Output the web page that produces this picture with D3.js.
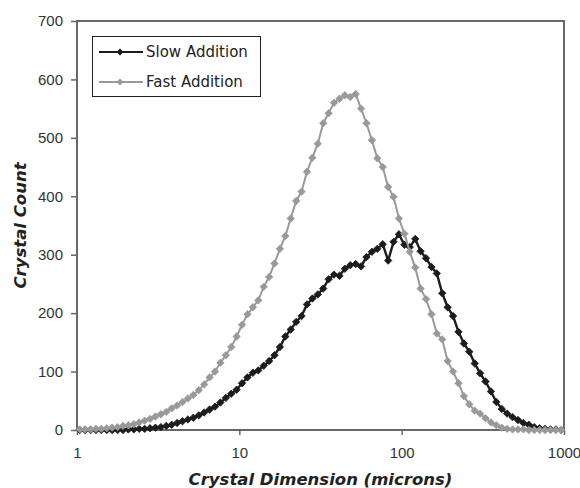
<!DOCTYPE html>
<html>
<head>
<meta charset="utf-8">
<script src="https://cdn.jsdelivr.net/npm/d3@7"></script>
<style>
    body { margin: 0; background: #fff; }
    .axis text { font-family: "Liberation Sans", Arial, sans-serif; font-size: 15px; fill: #333; }
    .axis line { stroke: #666; stroke-width: 1.5; }
    .title { font-family: "Comic Sans MS", "DejaVu Sans", sans-serif; font-weight: bold; font-style: italic; font-size: 16.5px; fill: #222; }
    .legend text { font-family: "Comic Sans MS", "DejaVu Sans", sans-serif; font-size: 15px; fill: #222; }
</style>
</head>
<body>
<div class="chart-container"></div>
<script>
// channel midpoints (microns), 90 log channels 1-1000
const binSizes = [
    1.039, 1.122, 1.212, 1.308, 1.413, 1.526, 1.647, 1.778, 1.920, 2.073,
    2.239, 2.417, 2.610, 2.818, 3.043, 3.286, 3.548, 3.831, 4.137, 4.467,
    4.823, 5.208, 5.623, 6.072, 6.556, 7.079, 7.644, 8.254, 8.913, 9.624,
    10.39, 11.22, 12.12, 13.08, 14.13, 15.26, 16.47, 17.78, 19.20, 20.73,
    22.39, 24.17, 26.10, 28.18, 30.43, 32.86, 35.48, 38.31, 41.37, 44.67,
    48.23, 52.08, 56.23, 60.72, 65.56, 70.79, 76.44, 82.54, 89.13, 96.24,
    103.9, 112.2, 121.2, 130.8, 141.3, 152.6, 164.7, 177.8, 192.0, 207.3,
    223.9, 241.7, 261.0, 281.8, 304.3, 328.6, 354.8, 383.1, 413.7, 446.7,
    482.3, 520.8, 562.3, 607.2, 655.6, 707.9, 764.4, 825.4, 891.3, 962.4
];
const slowCounts = [
    0, 0, 0, 0, 0, 0, 0, 0, 0, 1,
    1, 2, 2, 3, 4, 5, 7, 9, 12, 15,
    18, 21, 25, 30, 35, 40, 47, 55, 62, 69,
    80, 90, 98, 102, 110, 118, 128, 142, 160, 172,
    185, 195, 215, 225, 232, 242, 258, 266, 264, 276,
    282, 284, 280, 296, 305, 310, 318, 290, 322, 335,
    317, 313, 327, 306, 294, 279, 268, 234, 210, 195,
    168, 148, 134, 114, 97, 83, 66, 48, 36, 28,
    22, 17, 12, 9, 5, 3, 2, 1, 1, 0
];
const fastCounts = [
    1, 1, 1, 2, 2, 3, 4, 5, 7, 8,
    10, 13, 16, 19, 23, 27, 31, 37, 42, 48,
    54, 60, 68, 78, 90, 100, 115, 128, 142, 160,
    180, 198, 210, 222, 245, 262, 285, 310, 332, 362,
    392, 408, 442, 466, 490, 525, 542, 560, 567, 573,
    570, 575, 550, 525, 496, 465, 450, 416, 399, 362,
    336, 305, 278, 242, 224, 198, 165, 155, 118, 100,
    80, 58, 44, 33, 28, 20, 13, 8, 4, 2,
    1, 1, 1, 0, 0, 0, 0, 0, 0, 0
];
const seriesNames = ['Slow Addition', 'Fast Addition'];
const seriesColors = ['#1c1c1c', '#999999'];
const xTicks = [1, 10, 100, 1000];
const yTicks = [0, 100, 200, 300, 400, 500, 600, 700];

const svg_width = 580;
const svg_height = 488;
const chart_margin = {
    top: 21,
    right: 16,
    bottom: 58,
    left: 77
};
const chart_width = svg_width - (chart_margin.left + chart_margin.right);
const chart_height = svg_height - (chart_margin.top + chart_margin.bottom);

const svg = d3.select('.chart-container')
    .append('svg')
    .attr('width', svg_width)
    .attr('height', svg_height);
const this_svg = svg.append('g')
    .attr('transform', `translate(${chart_margin.left},${chart_margin.top})`);

//scale
const xScale = d3.scaleLog([1, 1000], [0, chart_width]);
const yScale = d3.scaleLinear([0, 700], [chart_height, 0]);

const diamond = r => `M0,${-r}L${r},0L0,${r}L${-r},0Z`;

const series = [slowCounts, fastCounts].map((counts, k) => ({
    name: seriesNames[k],
    color: seriesColors[k],
    width: k === 0 ? 2.4 : 2,
    values: binSizes.map((b, i) => ({ size: b, count: counts[i] }))
}));

//axes
const xAxis = d3.axisBottom(xScale)
    .tickValues(xTicks)
    .tickFormat(d3.format('d'))
    .tickSizeInner(5)
    .tickSizeOuter(0)
    .tickPadding(12);
this_svg.append('g')
    .attr('class', 'x axis')
    .attr('transform', `translate(0,${chart_height})`)
    .call(xAxis)
    .call(g => g.select('.domain').remove());

const yAxis = d3.axisLeft(yScale)
    .tickValues(yTicks)
    .tickSizeInner(6)
    .tickSizeOuter(0)
    .tickPadding(8);
this_svg.append('g')
    .attr('class', 'y axis')
    .call(yAxis)
    .call(g => g.select('.domain').remove());

//plot border
this_svg.append('rect')
    .attr('x', 0)
    .attr('y', 0)
    .attr('width', chart_width)
    .attr('height', chart_height)
    .style('fill', 'none')
    .style('stroke', '#686868')
    .style('stroke-width', 2);

//lines + markers
const line = d3.line()
    .x(d => xScale(d.size))
    .y(d => yScale(d.count));

const groups = this_svg.selectAll('.series')
    .data(series)
    .enter()
    .append('g')
    .attr('class', 'series');
groups.append('path')
    .attr('d', d => line(d.values))
    .style('fill', 'none')
    .style('stroke', d => d.color)
    .style('stroke-width', d => d.width);
groups.each(function (s) {
    d3.select(this).selectAll('.marker')
        .data(s.values)
        .enter()
        .append('path')
        .attr('class', 'marker')
        .attr('d', diamond(3.7))
        .attr('transform', d => `translate(${xScale(d.size)},${yScale(d.count)})`)
        .style('fill', s.color)
        .style('stroke', s.color)
        .style('stroke-width', 0.8);
});

//axis titles
svg.append('text')
    .attr('class', 'title')
    .attr('x', chart_margin.left + chart_width / 2)
    .attr('y', 485)
    .attr('text-anchor', 'middle')
    .text('Crystal Dimension (microns)');
svg.append('text')
    .attr('class', 'title')
    .attr('transform', `translate(26,${chart_margin.top + chart_height / 2}) rotate(-90)`)
    .attr('text-anchor', 'middle')
    .text('Crystal Count');

//legend
const legend = svg.append('g')
    .attr('class', 'legend');
legend.append('rect')
    .attr('x', 92.5)
    .attr('y', 36.5)
    .attr('width', 168)
    .attr('height', 60)
    .style('fill', '#fff')
    .style('stroke', '#222')
    .style('stroke-width', 1);
const items = legend.selectAll('.item')
    .data(series)
    .enter()
    .append('g')
    .attr('class', 'item')
    .attr('transform', (d, i) => `translate(0,${52 + i * 30})`);
items.append('line')
    .attr('x1', 99)
    .attr('x2', 143)
    .style('stroke', d => d.color)
    .style('stroke-width', 2);
items.append('path')
    .attr('d', diamond(3.4))
    .attr('transform', 'translate(120,0)')
    .style('fill', d => d.color);
items.append('text')
    .attr('x', 146)
    .attr('y', 5)
    .text(d => d.name);
</script>
</body>
</html>
